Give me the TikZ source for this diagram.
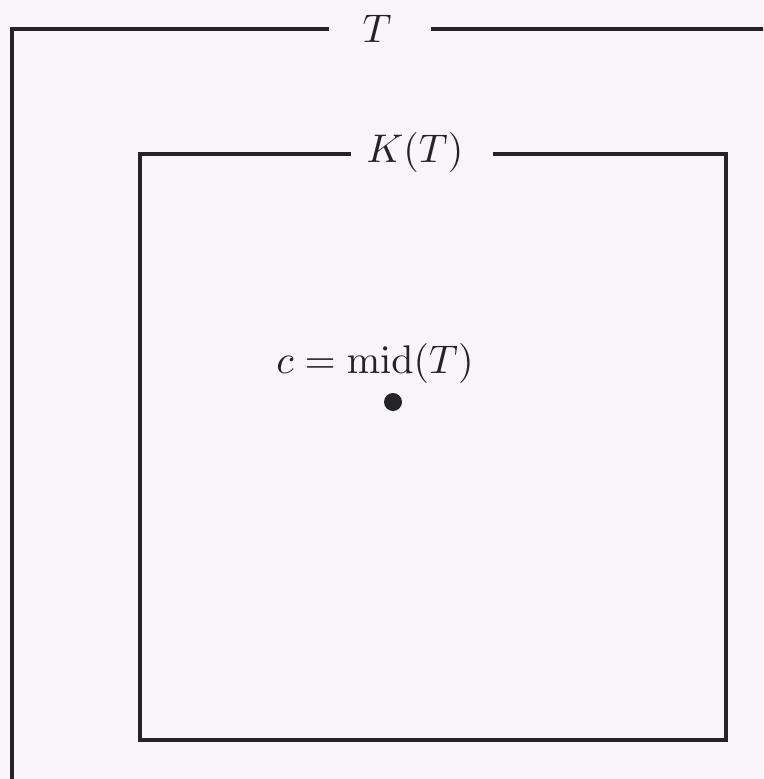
\documentclass[tikz,border=0pt]{standalone}
\usepackage{amsmath}
\begin{document}
\definecolor{paper}{RGB}{247,245,248}
\definecolor{ink}{RGB}{36,36,40}
\begin{tikzpicture}[x=1pt,y=-1pt,
  frame/.style={draw=ink,line width=3.2pt,line cap=rect},
  lbl/.style={anchor=base,inner sep=0pt,scale=4,text=ink}]
\useasboundingbox (0,0) rectangle (763,779);
\fill[paper] (0,0) rectangle (763,779);
\clip (0,0) rectangle (763,779);
% outer square T
\node[lbl] (T) at (377,42) {$T$};
\coordinate (oTL) at (12,29);
\coordinate (oBL) at (12,800);
\coordinate (oTR) at (800,29);
\coordinate (oL) at (327,29);
\coordinate (oR) at (433,29);
\draw[frame] (oBL) -- (oTL) -- (oL);
\draw[frame] (oR) -- (oTR);
% inner square K(T)
\node[lbl] (K) at (415,162) {$K(T)$};
\coordinate (iTL) at (140,154);
\coordinate (iBL) at (140,740);
\coordinate (iBR) at (726,740);
\coordinate (iTR) at (726,154);
\coordinate (iL) at (349,154);
\coordinate (iR) at (495,154);
\draw[frame] (iL) -- (iTL) -- (iBL) -- (iBR) -- (iTR) -- (iR);
% midpoint
\node[lbl] (cl) at (375,373) {$c=\mathrm{mid}(T)$};
\node[circle,fill=ink,inner sep=0pt,minimum size=18pt] (c) at (393,402) {};
\end{tikzpicture}
\end{document}
